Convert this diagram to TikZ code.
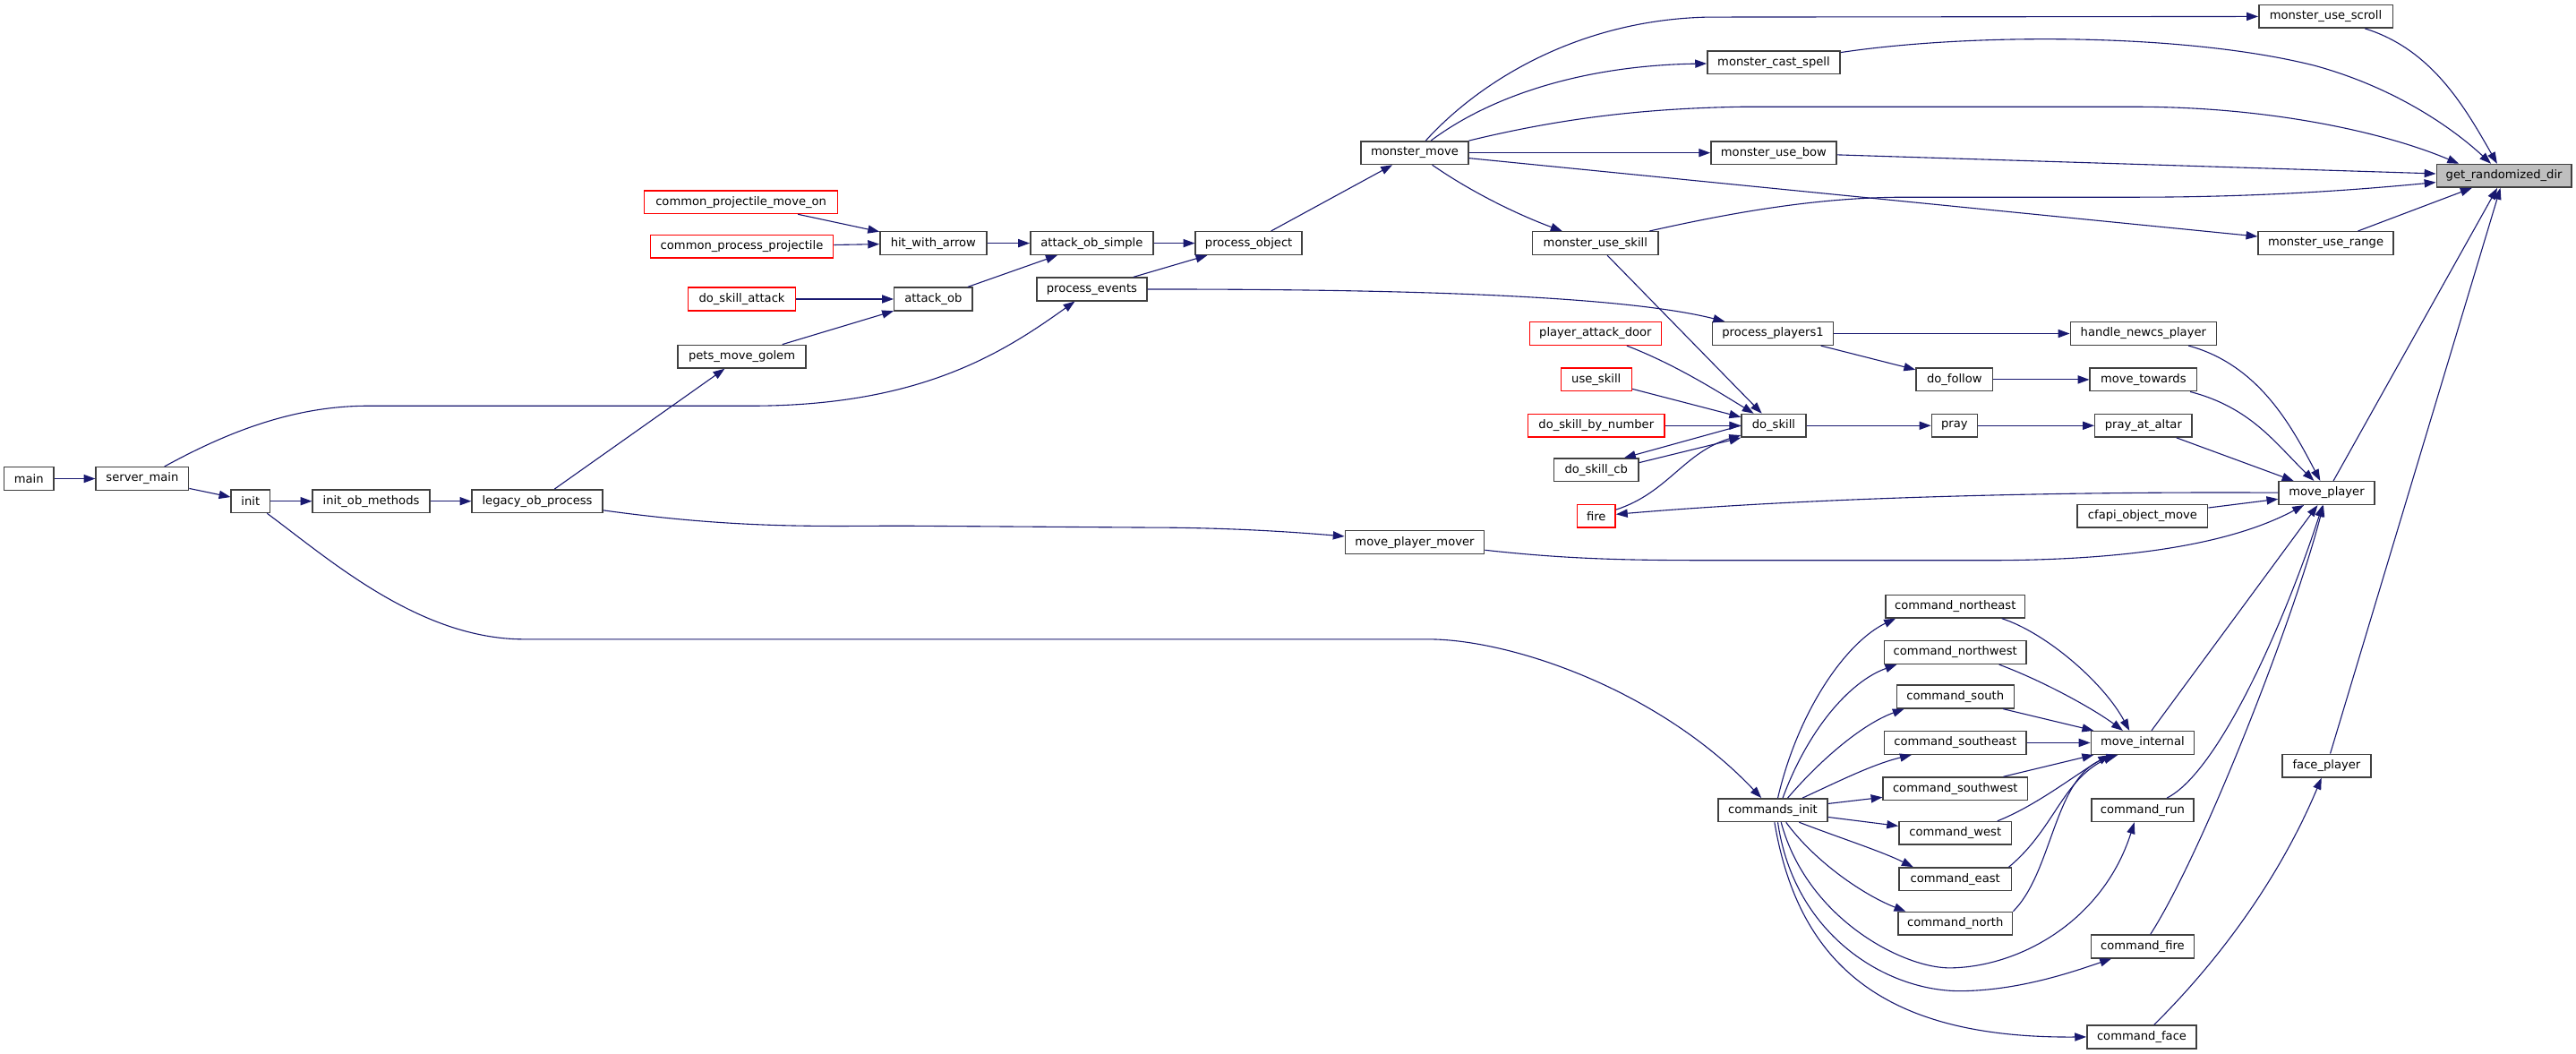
\documentclass[tikz,border=0pt]{standalone}
\usepackage{fontspec}
\setmainfont{DejaVu Sans}
\usetikzlibrary{arrows.meta}
\definecolor{edgeblue}{HTML}{191970}
\definecolor{boxgray}{HTML}{404040}
\definecolor{hlfill}{HTML}{BFBFBF}
\newcommand{\nodefont}{\fontsize{7.15pt}{8.5pt}\selectfont}
\begin{document}
\begin{tikzpicture}[x=1pt,y=-1pt,
  nd/.style={draw=boxgray, line width=0.8pt, fill=white, minimum height=14pt, inner sep=0pt, font=\nodefont},
  rnd/.style={nd, draw=red},
  cx/.style={draw=edgeblue, line width=0.6pt, -{Triangle[length=7pt,width=5pt]}},
]
\fill[white] (0,0) rectangle (1567.8,641.4);
\useasboundingbox (0,0) rectangle (1567.8,641.4);

% nodes
\node[nd,minimum width=30.4pt] (main) at (17.6,291.3) {main};
\node[nd,minimum width=56.4pt] (server_main) at (86.6,291.3) {server\_main};
\node[nd,minimum width=23.6pt] (init) at (152.5,305) {init};
\node[nd,minimum width=71.2pt] (init_ob_methods) at (225.9,305) {init\_ob\_methods};
\node[nd,minimum width=79.5pt] (legacy_ob_process) at (327,305) {legacy\_ob\_process};
\node[rnd,minimum width=117.6pt] (cpmo) at (451,123) {common\_projectile\_move\_on};
\node[rnd,minimum width=111.2pt] (cpp) at (451.5,150) {common\_process\_projectile};
\node[rnd,minimum width=65.6pt] (dsa) at (451.5,182) {do\_skill\_attack};
\node[nd,minimum width=77.8pt] (pmg) at (451.5,217) {pets\_move\_golem};
\node[nd,minimum width=64.8pt] (hwa) at (568,148) {hit\_with\_arrow};
\node[nd,minimum width=47.5pt] (aob) at (568,182) {attack\_ob};
\node[nd,minimum width=74.8pt] (aos) at (664.5,148) {attack\_ob\_simple};
\node[nd,minimum width=67pt] (pe) at (664.5,176) {process\_events};
\node[nd,minimum width=64.8pt] (po) at (760,148) {process\_object};
\node[nd,minimum width=65.3pt] (mm) at (861,93) {monster\_move};
\node[nd,minimum width=76.4pt] (musk) at (971,148) {monster\_use\_skill};
\node[rnd,minimum width=80pt] (pad) at (971,203) {player\_attack\_door};
\node[rnd,minimum width=43.1pt] (us) at (971.5,231) {use\_skill};
\node[rnd,minimum width=83.1pt] (dsbn) at (971.5,259) {do\_skill\_by\_number};
\node[nd,minimum width=51.7pt] (dscb) at (971.5,286) {do\_skill\_cb};
\node[rnd,minimum width=23.3pt] (fire) at (971.5,314) {fire};
\node[nd,minimum width=84.6pt] (mpm) at (861,330) {move\_player\_mover};
\node[nd,minimum width=80.8pt] (mcs) at (1079.5,38) {monster\_cast\_spell};
\node[nd,minimum width=76.4pt] (mub) at (1079.5,93) {monster\_use\_bow};
\node[nd,minimum width=73.7pt] (pp1) at (1079,203) {process\_players1};
\node[nd,minimum width=39.2pt] (ds) at (1079.5,259) {do\_skill};
\node[nd,minimum width=66.4pt] (ci) at (1079,493) {commands\_init};
\node[nd,minimum width=81.5pt] (musc) at (1415.5,10) {monster\_use\_scroll};
\node[nd,minimum width=82.2pt] (mur) at (1415.5,148) {monster\_use\_range};
\node[nd,minimum width=46.7pt] (dfo) at (1189.5,231) {do\_follow};
\node[nd,minimum width=27.8pt] (pray) at (1189.5,259) {pray};
\node[nd,minimum width=84.9pt] (cne) at (1190,369) {command\_northeast};
\node[nd,minimum width=86.5pt] (cnw) at (1190,397) {command\_northwest};
\node[nd,minimum width=71.4pt] (cs) at (1190,424) {command\_south};
\node[nd,minimum width=86.5pt] (cse) at (1190,452) {command\_southeast};
\node[nd,minimum width=87.8pt] (csw) at (1190,480) {command\_southwest};
\node[nd,minimum width=68.5pt] (cw) at (1190,507) {command\_west};
\node[nd,minimum width=68.4pt] (ce) at (1190,535) {command\_east};
\node[nd,minimum width=69.6pt] (cn) at (1190,562) {command\_north};
\node[nd,minimum width=88.9pt] (hnp) at (1304.5,203) {handle\_newcs\_player};
\node[nd,minimum width=65pt] (mt) at (1304.5,231) {move\_towards};
\node[nd,minimum width=59pt] (paa) at (1304.5,259) {pray\_at\_altar};
\node[nd,minimum width=79.3pt] (cfm) at (1304,314) {cfapi\_object\_move};
\node[nd,minimum width=62.8pt] (mi) at (1304,452) {move\_internal};
\node[nd,minimum width=62.3pt] (crun) at (1304,493) {command\_run};
\node[nd,minimum width=62.8pt] (cfire) at (1304,576) {command\_fire};
\node[nd,minimum width=66.7pt] (cface) at (1303.5,631) {command\_face};
\node[nd,minimum width=58.2pt] (mp) at (1416,300) {move\_player};
\node[nd,minimum width=53.8pt] (fp) at (1416,466) {face\_player};
\node[nd,fill=hlfill,minimum width=82.2pt] (grd) at (1524,107) {get\_randomized\_dir};

% edges, left part
\draw[cx] (main) -- (server_main);
\draw[cx] (server_main) -- (init);
\draw[cx] (server_main) .. controls (140,262) and (180,247) .. (224,247) -- (457,247) .. controls (560,247) and (610,215) .. (pe);
\draw[cx] (init) -- (init_ob_methods);
\draw[cx] (init) .. controls (200,340) and (255,389) .. (319,389) -- (869,389) .. controls (920,389) and (1010,420) .. (ci);
\draw[cx] (init_ob_methods) -- (legacy_ob_process);
\draw[cx] (legacy_ob_process) -- (pmg);
\draw[cx] (legacy_ob_process) .. controls (450,322) and (500,320) .. (550,320) -- (697,321) .. controls (750,321) and (790,324) .. (mpm);
\draw[cx] (pmg) -- (aob);
\draw[cx] (dsa) -- (aob);
\draw[cx] (cpmo) -- (hwa);
\draw[cx] (cpp) -- (hwa);
\draw[cx] (hwa) -- (aos);
\draw[cx] (aob) -- (aos);
\draw[cx] (aos) -- (po);
\draw[cx] (pe) -- (po);
\draw[cx] (pe) .. controls (820,176) and (980,178) .. (pp1);
\draw[cx] (po) -- (mm);

% monster_move fan
\draw[cx] (mm) .. controls (900,50) and (960,12) .. (1040,10.4) -- (musc);
\draw[cx] (mm) .. controls (905,60) and (960,40) .. (mcs);
\draw[cx] (mm.north east) .. controls (950,72) and (1000,66) .. (1060,65) -- (1300,65) .. controls (1380,65) and (1450,80) .. ([xshift=14pt]grd.north west);
\draw[cx] (mm) -- (mub);
\draw[cx] (mm) -- (mur);
\draw[cx] (mm) .. controls (900,120) and (930,133) .. (musk);

% into get_randomized_dir
\draw[cx] (musc) .. controls (1480,30) and (1500,65) .. (grd);
\draw[cx] (mcs) .. controls (1200,20) and (1330,20) .. (1409,40) .. controls (1460,54) and (1495,80) .. (grd);
\draw[cx] (mub) -- (grd);
\draw[cx] (musk) .. controls (1060,128) and (1110,120) .. (1160,120) -- (1300,120) .. controls (1380,120) and (1440,115) .. (grd);
\draw[cx] (mur) -- (grd);
\draw[cx] (mp) -- (grd);
\draw[cx] (fp) -- (grd);

% do_skill cluster
\draw[cx] (musk) -- (ds);
\draw[cx] (pad) .. controls (1020,222) and (1045,238) .. (ds);
\draw[cx] (us) -- (ds);
\draw[cx] (dsbn) -- (ds);
\draw[cx] (ds.west) -- ([xshift=17pt]dscb.north);
\draw[cx] ([yshift=4.5pt]dscb.east) -- (ds.south west);
\draw[cx] (fire) .. controls (1015,300) and (1025,275) .. (ds);
\draw[cx] (mp) .. controls (1250,299) and (1100,303) .. (fire);
\draw[cx] (ds) -- (pray);
\draw[cx] (pray) -- (paa);
\draw[cx] (paa) -- (mp);
\draw[cx] (pp1) -- (hnp);
\draw[cx] (pp1) -- (dfo);
\draw[cx] (dfo) -- (mt);
\draw[cx] (mt) .. controls (1370,248) and (1385,270) .. (mp);
\draw[cx] (hnp) .. controls (1375,222) and (1395,260) .. (mp);
\draw[cx] (cfm) -- (mp);
\draw[cx] (mpm) .. controls (960,341) and (1000,341) .. (1055,341) -- (1210,341) .. controls (1300,341) and (1360,330) .. (mp);
\draw[cx] (mi) -- (mp);
\draw[cx] (crun) .. controls (1350,470) and (1390,380) .. (mp);
\draw[cx] (cfire) .. controls (1340,520) and (1395,380) .. (mp);
\draw[cx] (cface) .. controls (1345,590) and (1385,540) .. (fp);

% commands_init fan
\draw[cx] ([xshift=3pt]ci.north) .. controls (1095,430) and (1125,390) .. ([xshift=6.5pt]cne.south west);
\draw[cx] ([xshift=6pt]ci.north) .. controls (1100,445) and (1125,415) .. ([xshift=8pt]cnw.south west);
\draw[cx] ([xshift=9pt]ci.north) .. controls (1110,460) and (1135,440) .. ([xshift=5pt]cs.south west);
\draw[cx] ([xshift=18pt]ci.north) .. controls (1120,475) and (1140,465) .. ([xshift=17pt]cse.south west);
\draw[cx] (ci) -- (csw);
\draw[cx] (ci) -- (cw);
\draw[cx] ([xshift=16pt]ci.south) .. controls (1120,510) and (1145,518) .. ([xshift=9pt]ce.north west);
\draw[cx] ([xshift=8pt]ci.south) .. controls (1105,525) and (1135,545) .. ([xshift=5pt]cn.north west);
\draw[cx] ([xshift=5pt]ci.south) .. controls (1100,560) and (1160,590) .. (1188,589) .. controls (1230,588) and (1280,560) .. ([xshift=-5pt]crun.south);
\draw[cx] ([xshift=3pt]ci.south) .. controls (1092,570) and (1150,605) .. (1197,603) .. controls (1230,602) and (1260,592) .. ([xshift=-19pt]cfire.south);
\draw[cx] ([xshift=1pt]ci.south) .. controls (1095,590) and (1150,632) .. (cface.west);

% into move_internal
\draw[cx] ([xshift=-14.5pt]cne.south east) .. controls (1245,385) and (1280,415) .. ([xshift=-8pt]mi.north);
\draw[cx] ([xshift=-17pt]cnw.south east) .. controls (1245,415) and (1275,432) .. ([xshift=-12pt]mi.north);
\draw[cx] ([xshift=-7pt]cs.south east) -- ([xshift=2pt]mi.north west);
\draw[cx] (cse) -- (mi);
\draw[cx] ([xshift=-15pt]csw.north east) -- ([xshift=2pt]mi.south west);
\draw[cx] ([xshift=-9pt]cw.north east) .. controls (1240,490) and (1265,470) .. ([xshift=-20pt]mi.south);
\draw[cx] ([xshift=-2pt]ce.north east) .. controls (1250,505) and (1255,475) .. ([xshift=-17pt]mi.south);
\draw[cx] (cn.north east) .. controls (1250,530) and (1250,470) .. ([xshift=-15pt]mi.south);
\end{tikzpicture}
\end{document}
